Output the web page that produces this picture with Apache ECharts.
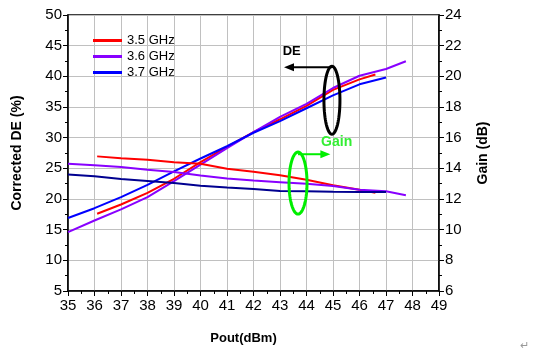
<!DOCTYPE html>
<html>
<head>
<meta charset="utf-8">
<script src="https://cdn.jsdelivr.net/npm/echarts@6/dist/echarts.min.js"></script>
<style>
  html, body { margin: 0; padding: 0; background: #fff; }
  #chart { width: 542px; height: 352px; }
</style>
</head>
<body>
<div id="chart"></div>
<script>
// Corrected DE (%) vs Pout
const de35 = [[36.1, 17.6], [37, 19.1], [38, 21.0], [39, 23.3], [40, 26.0], [41, 28.5], [42, 30.9], [43, 33.0], [44, 35.2], [45, 37.8], [46, 39.5], [46.6, 40.3]];
const de36 = [[35, 14.6], [36, 16.5], [37, 18.3], [38, 20.3], [39, 22.9], [40, 25.6], [41, 28.3], [42, 30.9], [43, 33.4], [44, 35.5], [45, 38.1], [46, 40.1], [47, 41.2], [47.75, 42.45]];
const de37 = [[35, 16.9], [36, 18.5], [37, 20.3], [38, 22.3], [39, 24.5], [40, 26.6], [41, 28.6], [42, 30.8], [43, 32.7], [44, 34.8], [45, 36.9], [46, 38.7], [47, 39.8]];

// Gain (dB) vs Pout
const gain35 = [[36.1, 14.78], [37, 14.66], [38, 14.56], [39, 14.4], [40, 14.3], [41, 13.97], [42, 13.78], [43, 13.55], [44, 13.25], [45, 12.9], [46, 12.6], [46.6, 12.4]];
const gain36 = [[35, 14.3], [36, 14.2], [37, 14.08], [38, 13.9], [39, 13.76], [40, 13.54], [41, 13.34], [42, 13.2], [43, 13.1], [44, 13.0], [45, 12.85], [46, 12.6], [47, 12.5], [47.75, 12.25]];
const gain37 = [[35, 13.6], [36, 13.48], [37, 13.3], [38, 13.17], [39, 13.04], [40, 12.87], [41, 12.75], [42, 12.65], [43, 12.52], [44, 12.5], [45, 12.47], [46, 12.46], [47, 12.45]];

const names = ['3.5 GHz', '3.6 GHz', '3.7 GHz'];
const FONT = '"Liberation Sans", Arial, sans-serif';

const chart = echarts.init(document.getElementById('chart'));

function lineSeries(name, data, color, yIndex) {
  return {
    name: name,
    type: 'line',
    yAxisIndex: yIndex,
    data: data,
    symbol: 'none',
    smooth: false,
    lineStyle: { color: color, width: 2 },
    itemStyle: { color: color },
    emphasis: { disabled: true },
    animation: false
  };
}

const axisCommon = {
  axisLine: { show: true, lineStyle: { color: '#000', width: 1.5 } },
  axisTick: { show: true, length: 5, lineStyle: { color: '#000' } },
  minorTick: { show: true, splitNumber: 2, length: 3, lineStyle: { color: '#000' } },
  axisLabel: { color: '#000', fontSize: 15, fontFamily: FONT, margin: 6 }
};

chart.setOption({
  animation: false,
  backgroundColor: '#fff',
  grid: {
    left: 68, right: 103, top: 15, bottom: 61,
    show: true, borderColor: '#000', borderWidth: 1.5,
    outerBoundsMode: 'none'
  },
  legend: {
    data: names,
    orient: 'vertical',
    left: 93, top: 34,
    padding: 0,
    itemWidth: 29, itemHeight: 3,
    itemGap: 3,
    itemTextGap: 4,
    icon: 'rect',
    textStyle: { color: '#000', fontSize: 13, fontFamily: FONT }
  },
  xAxis: Object.assign({}, axisCommon, {
    type: 'value',
    min: 35, max: 49, interval: 1,
    name: 'Pout(dBm)',
    nameLocation: 'middle',
    nameGap: 41,
    nameTextStyle: { color: '#000', fontSize: 13, fontWeight: 'bold', fontFamily: FONT, padding: [0, 20, 0, 0] },
    splitLine: { show: true, lineStyle: { color: '#c0c0c0', width: 1 } },
    axisLabel: { color: '#000', fontSize: 15, fontFamily: FONT, margin: 7 }
  }),
  yAxis: [
    Object.assign({}, axisCommon, {
      type: 'value',
      position: 'left',
      min: 5, max: 50, interval: 5,
      name: 'Corrected DE (%)',
      nameLocation: 'middle',
      nameRotate: 90,
      nameGap: 44,
      nameTextStyle: { color: '#000', fontSize: 14, fontWeight: 'bold', fontFamily: FONT },
      splitLine: { show: true, lineStyle: { color: '#c0c0c0', width: 1 } }
    }),
    Object.assign({}, axisCommon, {
      type: 'value',
      position: 'right',
      min: 6, max: 24, interval: 2,
      name: 'Gain (dB)',
      nameLocation: 'middle',
      nameRotate: 90,
      nameGap: 37,
      nameTextStyle: { color: '#000', fontSize: 14, fontWeight: 'bold', fontFamily: FONT },
      splitLine: { show: false }
    })
  ],
  series: [
    lineSeries(names[0], de35, '#ff0000', 0),
    lineSeries(names[1], de36, '#8800ff', 0),
    lineSeries(names[2], de37, '#0000ff', 0),
    lineSeries(names[0], gain35, '#ff0000', 1),
    lineSeries(names[1], gain36, '#8800ff', 1),
    lineSeries(names[2], gain37, '#000090', 1)
  ]
});

// annotations placed in data coordinates
function px(x, y) {
  return chart.convertToPixel({ xAxisIndex: 0, yAxisIndex: 0 }, [x, y]);
}
function ellipse(c, rx, ry, color) {
  const pts = [];
  for (let i = 0; i < 72; i++) {
    const a = i / 72 * Math.PI * 2;
    pts.push([c[0] + rx * Math.cos(a), c[1] + ry * Math.sin(a)]);
  }
  return { type: 'polygon', shape: { points: pts }, style: { fill: 'none', stroke: color, lineWidth: 3 }, z: 100 };
}
function arrow(p0, p1, color) {
  const dir = p1[0] > p0[0] ? 1 : -1;
  return [
    { type: 'line', shape: { x1: p0[0], y1: p0[1], x2: p1[0] - dir * 6, y2: p1[1] }, style: { stroke: color, lineWidth: 2 }, z: 100 },
    { type: 'polygon', shape: { points: [[p1[0], p1[1]], [p1[0] - dir * 10, p1[1] - 4], [p1[0] - dir * 10, p1[1] + 4]] }, style: { fill: color }, z: 100 }
  ];
}

const deC = px(44.96, 36.1);
const gainC = px(43.68, 22.6);
const deArrowA = px(44.96, 41.5), deArrowB = px(43.15, 41.5);
const gArrowA = px(43.68, 27.3), gArrowB = px(44.9, 27.3);
const deText = px(43.1, 44.0);
const gText = px(44.55, 29.3);

chart.setOption({
  graphic: [
    ellipse(deC, 8, 34, '#000'),
    ellipse(gainC, 9, 31, '#00ee00')
  ].concat(arrow(deArrowA, deArrowB, '#000'))
   .concat(arrow(gArrowA, gArrowB, '#00ee00'))
   .concat([
    { type: 'text', x: deText[0], y: deText[1], style: { text: 'DE', fill: '#000', font: 'bold 13px ' + FONT, verticalAlign: 'middle' }, z: 100 },
    { type: 'text', x: gText[0], y: gText[1], style: { text: 'Gain', fill: '#33ee33', font: 'bold 14px ' + FONT, verticalAlign: 'middle' }, z: 100 },
    { type: 'text', x: 520, y: 340, style: { text: '↵', fill: '#999', font: '11px ' + FONT }, z: 100 }
  ])
});
</script>
</body>
</html>
